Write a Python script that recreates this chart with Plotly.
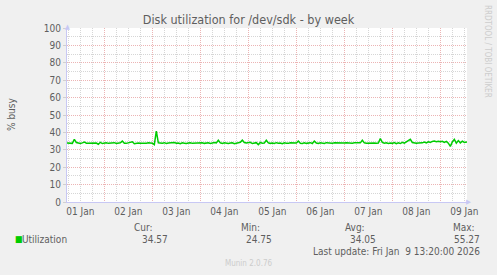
import plotly.graph_objects as go
import pandas as pd

# hourly utilization (% busy) starting Jan 1 2026 05:00
day1 = [33.9, 33.8, 34.0, 33.7, 36.0, 34.2, 33.9, 33.6, 34.0, 34.5, 33.8, 33.9, 33.7, 34.1, 33.8, 33.9, 33.2, 34.3, 33.6]
day2 = [33.8, 34.0, 33.7, 33.9, 33.8, 34.1, 33.6, 33.9, 34.0, 35.0, 33.8, 33.7, 33.9, 34.0, 34.6, 33.5, 33.8, 33.9, 33.8, 33.7, 33.9, 33.8, 34.0, 33.8]
day3 = [33.8, 33.0, 40.8, 34.0, 33.7, 33.8, 34.1, 33.6, 33.9, 34.0, 33.7, 34.2, 33.8, 33.9, 33.5, 34.0, 33.8, 33.6, 33.9, 34.1, 33.7, 33.8, 34.0, 33.9]
day4 = [33.8, 34.1, 33.7, 33.9, 34.0, 33.6, 33.8, 34.2, 33.9, 35.5, 34.0, 33.7, 34.1, 33.8, 33.6, 33.9, 34.0, 33.5, 33.8, 34.0, 34.3, 35.5, 34.2, 33.9]
day5 = [34.0, 34.3, 33.6, 33.9, 34.1, 33.0, 34.2, 33.8, 33.9, 35.5, 34.0, 33.7, 33.9, 33.6, 34.1, 33.8, 33.9, 33.5, 34.0, 33.8, 33.7, 34.1, 33.9, 33.8]
day6 = [33.9, 35.0, 33.8, 33.6, 34.0, 33.7, 33.9, 34.1, 33.6, 35.0, 33.9, 33.7, 34.0, 33.8, 33.6, 34.1, 33.9, 33.8, 33.7, 34.0, 33.9, 33.8, 34.0, 33.8]
day7 = [33.9, 34.0, 33.8, 33.9, 33.8, 34.0, 33.9, 33.8, 34.0, 35.5, 34.0, 33.8, 33.9, 33.8, 34.0, 33.9, 33.8, 33.9, 36.5, 34.3, 33.8, 34.0, 33.6, 33.9]
day8 = [33.7, 34.2, 33.5, 34.0, 33.6, 34.3, 33.8, 34.5, 35.0, 36.0, 34.2, 33.9, 33.8, 33.9, 33.8, 34.0, 34.4, 33.9, 34.6, 34.2, 34.8, 35.0, 34.7, 34.9]
day9 = [34.6, 34.9, 34.2, 34.8, 33.8, 32.0, 34.5, 36.0, 33.8, 35.3, 34.0, 35.0, 34.2, 34.5, 34.6]

values = day1 + day2 + day3 + day4 + day5 + day6 + day7 + day8 + day9
times = pd.date_range("2026-01-01 05:00", periods=len(values), freq="h")

range_start = "2026-01-01 05:20"
range_end = "2026-01-09 13:20"

title_text = "Disk utilization for /dev/sdk - by week"
y_title = "% busy"
series_name = "Utilization"
stat_labels = ["Cur:", "Min:", "Avg:", "Max:"]
stat_values = ["34.57", "24.75", "34.05", "55.27"]
last_update = "Last update: Fri Jan  9 13:20:00 2026"
footer = "Munin 2.0.76"
side_text = "RRDTOOL / TOBI OETIKER"

FONT = "DejaVu Sans Condensed, DejaVu Sans, sans-serif"
TXT = "#5e5e5e"
MAJ = "#ecb4b4"
MIN = "#d6d6d6"
AX = "#c8c8f4"
DOT = "1px,1px"

W, H = 497, 275
L, R, T, B = 67, 30, 28, 73
pw, ph = W - L - R, H - T - B

def px(x):
    return (x - L) / pw

def py(y):
    return (H - B - y) / ph

fig = go.Figure()
fig.add_trace(go.Scatter(x=times, y=values, mode="lines",
                         line=dict(color="#00cc00", width=1.5),
                         hoverinfo="skip", showlegend=False))

fig.update_layout(
    width=W, height=H,
    margin=dict(l=L, r=R, t=T, b=B),
    paper_bgcolor="#f0f0f0",
    plot_bgcolor="#ffffff",
    font=dict(family=FONT, size=10, color=TXT),
    title=dict(text=title_text, x=0.5, xref="container", xanchor="center",
               y=1 - 20 / H, yref="container", yanchor="middle",
               font=dict(family=FONT, size=12.5, color=TXT)),
    xaxis=dict(
        type="date", range=[range_start, range_end],
        tick0="2026-01-01", dtick=86400000, tickformat="%d %b",
        ticklabelmode="period",
        showgrid=True, gridcolor=MAJ, griddash=DOT, gridwidth=1,
        minor=dict(dtick=6 * 3600000, showgrid=True, gridcolor=MIN, griddash=DOT, gridwidth=1),
        showline=True, linecolor=AX, linewidth=1,
        zeroline=False, ticks="", fixedrange=True,
        tickfont=dict(family=FONT, size=10, color=TXT),
    ),
    yaxis=dict(
        range=[0, 100], dtick=10, tick0=0,
        showgrid=True, gridcolor=MAJ, griddash=DOT, gridwidth=1,
        minor=dict(dtick=5, showgrid=True, gridcolor=MIN, griddash=DOT, gridwidth=1),
        showline=True, linecolor=AX, linewidth=1,
        zeroline=False, ticks="outside", ticklen=3, tickcolor="#d0d0d0",
        fixedrange=True,
        tickfont=dict(family=FONT, size=10, color=TXT),
    ),
)

ann = []
# y-axis title
ann.append(dict(text=y_title, x=px(12), y=py(114), xref="paper", yref="paper",
                showarrow=False, textangle=-90, xanchor="center", yanchor="middle",
                font=dict(family=FONT, size=10, color=TXT)))
# side text
ann.append(dict(text=side_text, x=px(488), y=py(51), xref="paper", yref="paper",
                showarrow=False, textangle=90, xanchor="center", yanchor="middle",
                font=dict(family=FONT, size=8, color="#cdcdcd")))
# axis arrows
ann.append(dict(text="\u25b2", x=px(67), y=py(27), xref="paper", yref="paper",
                showarrow=False, xanchor="center", yanchor="middle",
                font=dict(size=7, color=AX)))
ann.append(dict(text="\u25b6", x=px(469), y=py(202), xref="paper", yref="paper",
                showarrow=False, xanchor="center", yanchor="middle",
                font=dict(size=7, color=AX)))
# legend
ann.append(dict(text="\u25a0", x=px(13), y=py(239), xref="paper", yref="paper",
                showarrow=False, xanchor="left", yanchor="middle",
                font=dict(size=9, color="#00cc00")))
ann.append(dict(text=series_name, x=px(20), y=py(239), xref="paper", yref="paper",
                showarrow=False, xanchor="left", yanchor="middle",
                font=dict(family=FONT, size=10, color=TXT)))
label_right = [155, 262, 367, 477]
value_right = [170, 274, 378, 482]
for lab, val, lr, vr in zip(stat_labels, stat_values, label_right, value_right):
    ann.append(dict(text=lab, x=px(lr), y=py(227), xref="paper", yref="paper",
                    showarrow=False, xanchor="right", yanchor="middle",
                    font=dict(family=FONT, size=10, color=TXT)))
    ann.append(dict(text=val, x=px(vr), y=py(239), xref="paper", yref="paper",
                    showarrow=False, xanchor="right", yanchor="middle",
                    font=dict(family=FONT, size=10, color=TXT)))
ann.append(dict(text=last_update.replace("  ", "&nbsp; "), x=px(482), y=py(251), xref="paper", yref="paper",
                showarrow=False, xanchor="right", yanchor="middle",
                font=dict(family=FONT, size=10, color=TXT)))
ann.append(dict(text=footer, x=px(248), y=py(263), xref="paper", yref="paper",
                showarrow=False, xanchor="center", yanchor="middle",
                font=dict(family=FONT, size=8, color="#cccccc")))
fig.update_layout(annotations=ann)

fig.write_html("out.html")
